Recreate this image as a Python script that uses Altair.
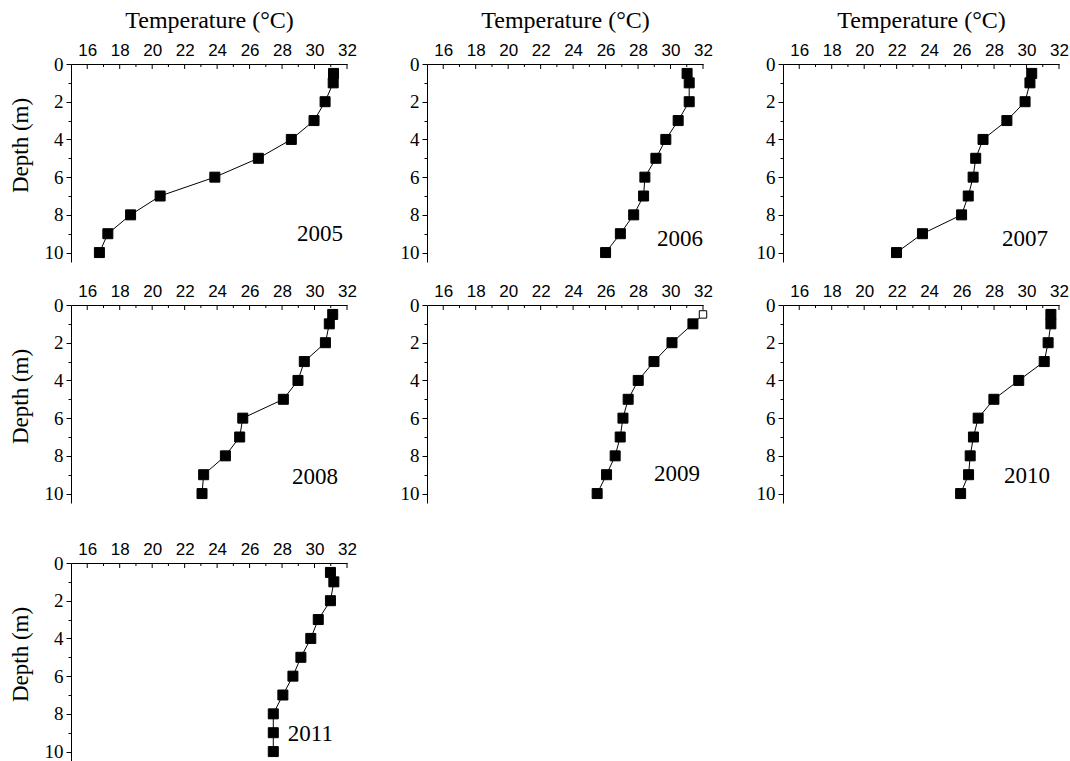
import altair as alt
import pandas as pd

# ---------------- data ----------------
years = ["2005", "2006", "2007", "2008", "2009", "2010", "2011"]
depths = [0.5, 1, 2, 3, 4, 5, 6, 7, 8, 9, 10]

temp_2005 = [31.17, 31.15, 30.65, 29.97, 28.57, 26.54, 23.86, 20.49, 18.67, 17.27, 16.75]
temp_2006 = [31.02, 31.15, 31.15, 30.47, 29.71, 29.10, 28.42, 28.34, 27.73, 26.91, 26.00]
temp_2007 = [30.32, 30.21, 29.91, 28.79, 27.32, 26.87, 26.71, 26.41, 26.00, 23.59, 21.99]
temp_2008 = [31.12, 30.91, 30.67, 29.37, 28.98, 28.08, 25.58, 25.39, 24.51, 23.17, 23.07]
temp_2009 = [32.00, 31.38, 30.09, 28.98, 28.01, 27.39, 27.07, 26.90, 26.59, 26.06, 25.48]
temp_2010 = [31.50, 31.50, 31.33, 31.09, 29.52, 27.99, 27.02, 26.73, 26.53, 26.43, 25.94]
temp_2011 = [30.98, 31.19, 30.98, 30.23, 29.77, 29.16, 28.67, 28.05, 27.46, 27.46, 27.46]

temps = {
    "2005": temp_2005, "2006": temp_2006, "2007": temp_2007, "2008": temp_2008,
    "2009": temp_2009, "2010": temp_2010, "2011": temp_2011,
}

# open (hollow) marker: the 0.5 m reading of 2009
hollow = {"2009": [0.5]}

x_major_ticks = [16, 18, 20, 22, 24, 26, 28, 30, 32]
x_minor_ticks = [17, 19, 21, 23, 25, 27, 29, 31]
y_tick_values = [0, 1, 2, 3, 4, 5, 6, 7, 8, 9, 10]

x_title = "Temperature (°C)"
y_title = "Depth (m)"

# ---------------- layout / style ----------------
W, H = 276, 198
SERIF = "Liberation Serif"
SANS = "Liberation Sans"
label_pos = {  # year label anchor (right edge, vertical middle) in plot pixels
    "2005": (272, 170), "2006": (276, 175), "2007": (265, 175),
    "2008": (267, 172), "2009": (273, 169), "2010": (267, 171), "2011": (262, 171),
}
y_title_shift = {"2005": -18, "2008": -8, "2011": -8}


def panel(year, show_x_title, show_y_title):
    df = pd.DataFrame({"depth": depths, "temp": temps[year]})
    df["hollow"] = df["depth"].isin(hollow.get(year, []))

    xscale = alt.Scale(domain=[15, 32], nice=False, zero=False)
    yscale = alt.Scale(domain=[0, 10.5], nice=False, zero=False, reverse=True)

    x_axis = alt.Axis(
        orient="top", values=x_major_ticks, ticks=False, tickSize=0,
        labelFont=SANS, labelFontSize=17, labelPadding=5, labelFlush=False,
        labelOverlap=False, grid=False, domainColor="black", labelColor="black",
        title=x_title if show_x_title else None, titleFont=SERIF, titleFontSize=24,
        titleFontWeight="normal", titlePadding=9, titleColor="black",
    )
    y_kwargs = dict(
        values=y_tick_values,
        labelExpr="datum.value % 2 === 0 ? datum.label : ''",
        tickSize={"condition": {"test": "datum.value % 2 === 0", "value": 5}, "value": 3},
        tickColor="black", labelFont=SERIF, labelFontSize=19, labelPadding=3,
        labelFlush=False, labelOverlap=False, grid=False, domainColor="black",
        labelColor="black",
        title=y_title if show_y_title else None, titleFont=SERIF, titleFontSize=23,
        titleFontWeight="normal", titlePadding=12, titleColor="black",
    )
    if show_y_title:
        y_kwargs["titleY"] = H / 2 + y_title_shift.get(year, 0)
    y_axis = alt.Axis(**y_kwargs)
    X = alt.X("temp:Q", scale=xscale, axis=x_axis)
    Y = alt.Y("depth:Q", scale=yscale, axis=y_axis)

    base = alt.Chart(df)
    line = base.mark_line(color="black", strokeWidth=1).encode(
        x=X, y=Y, order="depth:Q",
    )
    pts = base.mark_square(opacity=1, strokeWidth=1, stroke="black").encode(
        x=X, y=Y,
        fill=alt.condition("datum.hollow", alt.value("white"), alt.value("black")),
        size=alt.condition("datum.hollow", alt.value(55), alt.value(100)),
    )
    tmaj = alt.Chart(pd.DataFrame({"temp": x_major_ticks})).mark_rule(
        color="black", strokeWidth=1).encode(
        x=X, y=alt.value(0), y2=alt.value(5))
    tmin = alt.Chart(pd.DataFrame({"temp": x_minor_ticks})).mark_rule(
        color="black", strokeWidth=1).encode(
        x=X, y=alt.value(0), y2=alt.value(3))
    lx, ly = label_pos[year]
    txt = alt.Chart(pd.DataFrame({"label": [year]})).mark_text(
        font=SERIF, fontSize=23, align="right", baseline="middle", color="black"
    ).encode(text="label:N", x=alt.value(lx), y=alt.value(ly))

    return alt.layer(line, pts, tmaj, tmin, txt).properties(width=W, height=H)


p = {}
p["2005"] = panel("2005", True, True)
p["2006"] = panel("2006", True, False)
p["2007"] = panel("2007", True, False)
p["2008"] = panel("2008", False, True)
p["2009"] = panel("2009", False, False)
p["2010"] = panel("2010", False, False)
p["2011"] = panel("2011", False, True)

row1 = alt.hconcat(alt.hconcat(p["2005"], p["2006"], spacing=43), p["2007"], spacing=43)
row2 = alt.hconcat(alt.hconcat(p["2008"], p["2009"], spacing=43), p["2010"], spacing=43)
row3 = p["2011"]

chart = alt.vconcat(alt.vconcat(row1, row2, spacing=19), row3, spacing=36).properties(
    padding={"left": 9, "top": 8, "right": 0, "bottom": 0},
    background="white",
).configure_view(stroke=None).configure_axis(labelOverlap=False)

chart.save("out.html", embed_options={"renderer": "svg", "actions": False})
